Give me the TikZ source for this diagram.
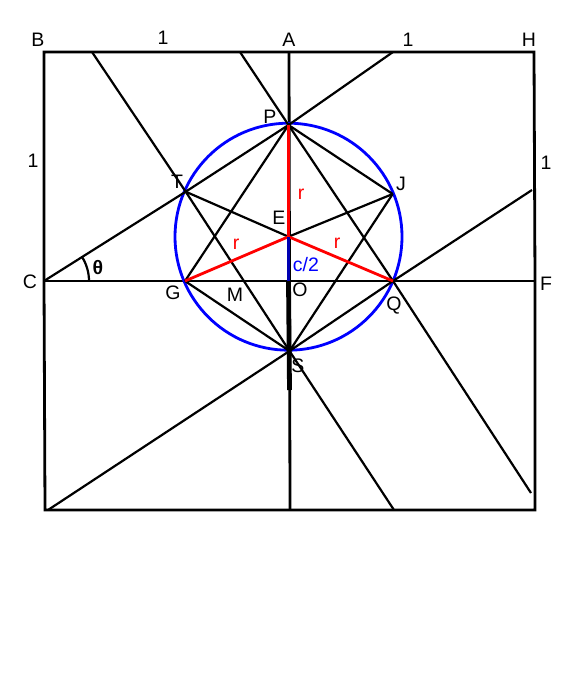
\documentclass[tikz,border=0pt]{standalone}
\usepackage{fontspec}
\setmainfont{Liberation Sans}
\begin{document}
\begin{tikzpicture}[x=1pt,y=-1pt,
  ln/.style={line width=2.2pt,black},
  frame/.style={line width=2.8pt,black},
  lbl/.style={font=\fontsize{19.5}{20}\selectfont,inner sep=0pt},
  redl/.style={line width=2.8pt,red},
  bluel/.style={line width=2.8pt,blue}]
\useasboundingbox (0,0) rectangle (576,686);
% points
\coordinate (B) at (44,52);
\coordinate (A) at (289,52);
\coordinate (H) at (534,52);
\coordinate (C) at (44,281);
\coordinate (F) at (535,281);
\coordinate (BL) at (45,510);
\coordinate (BM) at (290,510);
\coordinate (BR) at (535,510);
\coordinate (P) at (288.5,125);
\coordinate (T) at (185.7,191.7);
\coordinate (J) at (392.7,194);
\coordinate (E) at (288.5,236.7);
\coordinate (G) at (185,281);
\coordinate (Q) at (393,281);
\coordinate (O) at (288.5,281);
\coordinate (S) at (289.5,351);
\coordinate (Sd) at (289.5,390);
\coordinate (t1) at (92,52);
\coordinate (t2) at (240,52);
\coordinate (t3) at (393,52);
\coordinate (b1) at (48,510);
\coordinate (b2) at (394,510);
\coordinate (r1) at (532,190);
\coordinate (r2) at (531,493);
% frame
\draw[frame] (B) -- (H) -- (F) -- (BR) -- (BL) -- (C) -- cycle;
\draw[frame] (C) -- (F);
\draw[frame] (A) -- (BM);
% circle
\draw[bluel] (E) circle (113.5);
% long lines
\draw[ln] (C) -- (T) -- (P) -- (t3);
\draw[ln] (t2) -- (P) -- (Q) -- (r2);
\draw[ln] (t1) -- (T) -- (S) -- (b2);
\draw[ln] (b1) -- (S) -- (Q) -- (r1);
% star lines
\draw[ln] (P) -- (G);
\draw[ln] (P) -- (J);
\draw[ln] (G) -- (S);
\draw[ln] (J) -- (S);
\draw[ln] (T) -- (E);
\draw[ln] (J) -- (E);
% thick vertical
\draw[line width=4.8pt] (O) -- (Sd);
% red radii
\draw[redl] (P) -- (E);
\draw[redl] (E) -- (G);
\draw[redl] (E) -- (Q);
% c/2
\draw[line width=2.2pt,blue!70!black] (E) -- (O);
% angle
\draw[line width=2.2pt] ([xshift=45pt]C) arc[start angle=0,end angle=32.5,radius=45pt];
% labels
\node[lbl] (lB) at (38,40) {B};
\node[lbl] (l1a) at (163,38) {1};
\node[lbl] (lA) at (289,40) {A};
\node[lbl] (l1b) at (408,40) {1};
\node[lbl] (lH) at (529,40) {H};
\node[lbl] (l1c) at (33,161) {1};
\node[lbl] (l1d) at (546,163) {1};
\node[lbl] (lC) at (30,282) {C};
\node[lbl] (lF) at (546,284) {F};
\node[lbl] (lP) at (270,117) {P};
\node[lbl] (lT) at (177,182) {T};
\node[lbl] (lJ) at (401,184) {J};
\node[lbl] (lE) at (279,218) {E};
\node[lbl,red] (lr1) at (301,194) {r};
\node[lbl,red] (lr2) at (236,244) {r};
\node[lbl,red] (lr3) at (337,243) {r};
\node[lbl,blue] (lc) at (306,265) {c/2};
\node[lbl] (lG) at (173,293) {G};
\node[lbl] (lM) at (235,295) {M};
\node[lbl] (lO) at (300,290) {O};
\node[lbl] (lQ) at (394,306) {Q};
\node[lbl] (lS) at (298,366) {S};
\node[lbl] (lth) at (98,268) {\textbf{θ}};
\end{tikzpicture}
\end{document}
